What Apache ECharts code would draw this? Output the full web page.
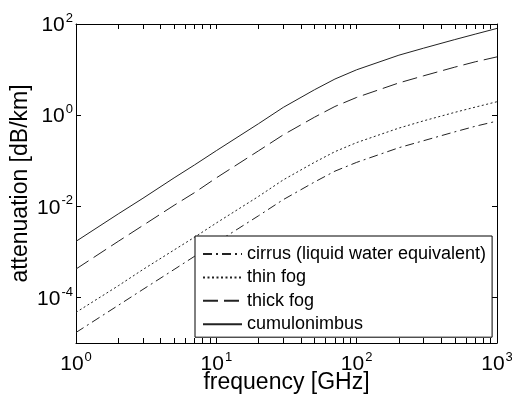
<!DOCTYPE html>
<html>
<head>
<meta charset="utf-8">
<script src="https://cdn.jsdelivr.net/npm/echarts@6/dist/echarts.min.js"></script>
<style>
  html, body { margin: 0; padding: 0; background: #fff; }
  #chart { width: 512px; height: 396px; }
</style>
</head>
<body>
<div id="chart"></div>
<script>
// Frequency grid in GHz
const freq = [1, 2, 3, 5, 7, 10, 20, 30, 50, 70, 100, 200, 300, 500, 700, 1000];

// Specific attenuation in dB/km
const cirrus       = [1.7e-5, 6.7e-5, 1.5e-4, 4.1e-4, 8.0e-4, 1.6e-3, 6.2e-3, 1.4e-2, 3.4e-2, 5.9e-2, 9.2e-2, 0.193, 0.275, 0.43, 0.57, 0.74];
const thinFog      = [4.7e-5, 1.8e-4, 4.1e-4, 1.1e-3, 2.1e-3, 4.3e-3, 1.65e-2, 3.8e-2, 9.2e-2, 0.158, 0.25, 0.52, 0.75, 1.15, 1.5, 1.97];
const thickFog     = [4.2e-4, 1.7e-3, 3.8e-3, 1.05e-2, 2.0e-2, 4.2e-2, 0.165, 0.37, 0.9, 1.55, 2.45, 5.1, 7.3, 11.3, 14.8, 19];
const cumulonimbus = [1.7e-3, 6.8e-3, 1.5e-2, 4.2e-2, 8.1e-2, 0.166, 0.65, 1.48, 3.6, 6.2, 9.9, 20.7, 29.5, 45.5, 60, 80];

const seriesNames = ['cirrus (liquid water equivalent)', 'thin fog', 'thick fog', 'cumulonimbus'];

// Axis ticks
const xLabelTicks = [1, 10, 100, 1000];
const xMinorTicks = [1, 2, 3, 4, 5, 6, 7, 8, 9, 10, 20, 30, 40, 50, 60, 70, 80, 90, 100, 200, 300, 400, 500, 600, 700, 800, 900, 1000];
const yLabelTicks = [1e-4, 1e-2, 1, 100];

const FONT = 'Liberation Sans, Arial, sans-serif';

function pow10Label(v) {
  const e = Math.round(Math.log10(v));
  return '{b|10}{s|' + e + '}';
}
const powRich = {
  b: { fontSize: 21, fontFamily: FONT, color: '#000', verticalAlign: 'bottom', lineHeight: 24 },
  s: { fontSize: 13, fontFamily: FONT, color: '#000', verticalAlign: 'bottom', lineHeight: 24, padding: [0, 0, 11, 1] }
};

function pairs(ys) { return freq.map((f, i) => [f, ys[i]]); }

const lineStyles = [
  { type: [9, 4, 2, 4] },
  { type: [2, 2.5] },
  { type: [15, 6] },
  { type: 'solid' }
];
const seriesData = [cirrus, thinFog, thickFog, cumulonimbus];

const chart = echarts.init(document.getElementById('chart'), null, { renderer: 'canvas' });

const axisCommon = {
  type: 'log',
  logBase: 10,
  axisLine: { show: true, onZero: false, lineStyle: { color: '#000', width: 1 } },
  splitLine: { show: false },
  minorTick: { show: false },
  minorSplitLine: { show: false }
};

chart.setOption({
  animation: false,
  backgroundColor: '#fff',
  grid: { left: 76, right: 15, top: 24, bottom: 53, containLabel: false, outerBoundsMode: 'none' },
  xAxis: [
    Object.assign({}, axisCommon, {
      position: 'bottom', min: 1, max: 1000,
      axisTick: { inside: true, length: 5, customValues: xMinorTicks, lineStyle: { color: '#000' } },
      axisLabel: { customValues: xLabelTicks, formatter: pow10Label, rich: powRich, margin: 8 },
      name: 'frequency [GHz]', nameLocation: 'middle', nameGap: 28, nameMoveOverlap: false,
      nameTextStyle: { fontSize: 23, fontFamily: FONT, color: '#000' }
    }),
    Object.assign({}, axisCommon, {
      position: 'top', min: 1, max: 1000,
      axisTick: { inside: true, length: 5, customValues: xMinorTicks, lineStyle: { color: '#000' } },
      axisLabel: { show: false }
    })
  ],
  yAxis: [
    Object.assign({}, axisCommon, {
      position: 'left', min: 1e-5, max: 100,
      axisTick: { inside: true, length: 5, customValues: yLabelTicks, lineStyle: { color: '#000' } },
      axisLabel: { customValues: yLabelTicks, formatter: pow10Label, rich: powRich, margin: 3 },
      name: 'attenuation [dB/km]', nameLocation: 'middle', nameGap: 44, nameRotate: 90, nameMoveOverlap: false,
      nameTextStyle: { fontSize: 23, fontFamily: FONT, color: '#000' }
    }),
    Object.assign({}, axisCommon, {
      position: 'right', min: 1e-5, max: 100,
      axisTick: { inside: true, length: 5, customValues: yLabelTicks, lineStyle: { color: '#000' } },
      axisLabel: { show: false }
    })
  ],
  legend: {
    orient: 'vertical',
    left: 195, top: 236,
    padding: [9, 6, 4, 7],
    itemWidth: 39, itemHeight: 18, itemGap: 5.4,
    backgroundColor: '#fff',
    borderColor: '#000', borderWidth: 1,
    itemStyle: { opacity: 0 },
    textStyle: { fontSize: 18, fontFamily: FONT, color: '#000', lineHeight: 18 },
    data: seriesNames
  },
  series: seriesNames.map((name, i) => ({
    name: name,
    type: 'line',
    xAxisIndex: 0, yAxisIndex: 0,
    symbol: 'none',
    smooth: false,
    lineStyle: Object.assign({ color: '#222', width: 1 }, lineStyles[i]),
    itemStyle: { color: '#222' },
    data: pairs(seriesData[i]),
    z: 2
  }))
});
</script>
</body>
</html>
